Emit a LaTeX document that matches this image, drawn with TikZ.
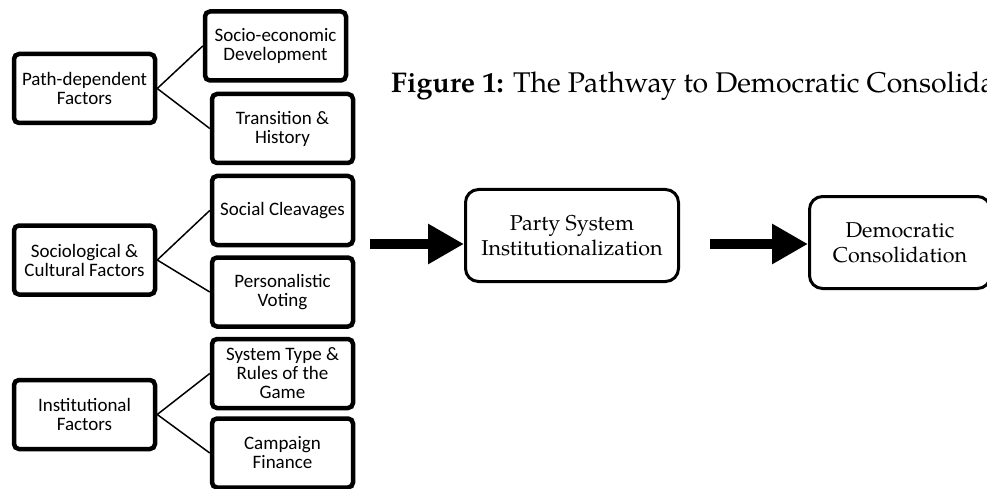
\documentclass[tikz,border=0pt]{standalone}
\usepackage{fontspec}
\setmainfont{Carlito}
\newfontfamily\pala{texgyrepagella}[Extension=.otf, UprightFont=*-regular, BoldFont=*-bold]
\usetikzlibrary{arrows.meta}

\begin{document}
\begin{tikzpicture}[x=1pt, y=-1pt, every node/.style={align=center, inner sep=2pt},
      factor/.style={draw, line width=4.5pt, rounded corners=5pt, minimum width=141pt, minimum height=69pt, font=\fontsize{19}{19}\selectfont},
      stage/.style={draw, line width=3pt, rounded corners=13pt, minimum height=92pt, font=\pala\fontsize{21.5}{25}\selectfont},
      link/.style={line width=1.5pt},
      bigarrow/.style={line width=10pt, -{Triangle[length=36pt, width=38pt]}}]
    \clip (0,0) rectangle (987,489);
    % left column: groups of factors
    \node[factor] (path) at (84.5,88.5) {Path-dependent\\Factors};
    \node[factor] (socio) at (84.5,260) {Sociological \&\\Cultural Factors};
    \node[factor] (inst) at (84.5,414.5) {Institutional\\Factors};
    \node[factor] (devel) at (275.5,46) {Socio-economic\\Development};
    \node[factor] (trans) at (282.5,128.5) {Transition \&\\History};
    \node[factor] (cleav) at (282.5,210.5) {Social Cleavages};
    \node[factor] (pers) at (282.5,292) {Personalistic\\Voting};
    \node[factor] (rules) at (282.5,373.5) {System Type \&\\Rules of the\\Game};
    \node[factor] (finance) at (282.5,453) {Campaign\\Finance};
    \draw[link] (path.east) -- (devel.west);
    \draw[link] (path.east) -- (trans.west);
    \draw[link] (socio.east) -- (cleav.west);
    \draw[link] (socio.east) -- (pers.west);
    \draw[link] (inst.east) -- (rules.west);
    \draw[link] (inst.east) -- (finance.west);
    % title and pathway
    \node[anchor=base west, inner sep=0pt, font=\pala\fontsize{28.5}{32}\selectfont] (title) at (391,93)
      {\textbf{Figure 1:} The Pathway to Democratic Consolidation};
    \node[stage, minimum width=213pt] (psi) at (572,235.5) {Party System\\Institutionalization};
    \node[stage, minimum width=181pt] (cons) at (900,242.5) {Democratic\\Consolidation};
    \coordinate (from) at (370,244);
    \coordinate (mid) at (710,244);
    \draw[bigarrow] (from) -- (from -| psi.west);
    \draw[bigarrow] (mid) -- (mid -| cons.west);
\end{tikzpicture}
\end{document}
